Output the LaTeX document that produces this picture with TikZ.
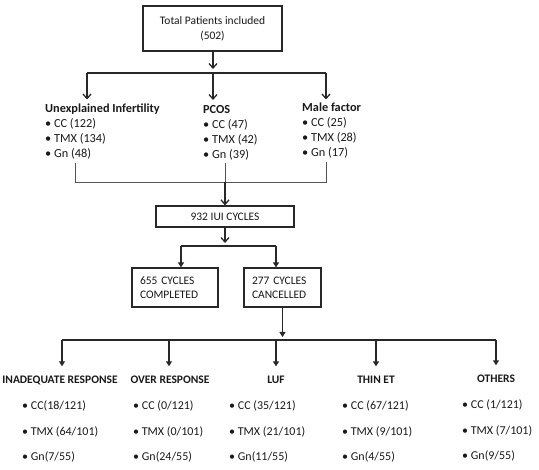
\documentclass[tikz,border=0pt]{standalone}
\usepackage{fontspec}
\setmainfont{Carlito}
\usetikzlibrary{arrows.meta}
\definecolor{lc}{RGB}{40,40,40}
\definecolor{tc}{RGB}{25,25,25}
\begin{document}
\begin{tikzpicture}[x=1pt,y=1pt,
  line/.style={draw=lc, line width=1.4pt},
  thinline/.style={draw=lc!80, line width=0.9pt},
  barb/.style={line, -{Straight Barb[length=4.5pt,width=8pt,line width=1.3pt]}},
  tri/.style={line, -{Triangle[length=5pt,width=6pt]}},
  box/.style={draw=lc, line width=1.3pt, inner sep=0pt, text=tc, font=\fontsize{11.5}{14}\selectfont},
  cat/.style={anchor=north west, inner sep=0pt, align=left, text=tc, font=\fontsize{12.3}{15.2}\selectfont},
  head/.style={anchor=base, inner sep=0pt, text=tc, font=\fontsize{11.5}{14}\selectfont\bfseries},
  list/.style={anchor=north west, inner sep=0pt, align=left, text=tc, font=\fontsize{12}{25.5}\selectfont}]
\useasboundingbox[fill=white] (0,0) rectangle (539,-470);

% top box
\node[box, line width=2.4pt, minimum width=139pt, minimum height=45pt, align=center,
      font=\fontsize{11.5}{15}\selectfont] (top) at (212.5,-28.5) {Total Patients included\\(502)};
\coordinate (t0) at (213,-69);
\coordinate (b1) at (87,-73);
\coordinate (b2) at (213,-73);
\coordinate (b3) at (326,-73);
\draw[barb] (top.south -| t0) -- (t0);
\draw[line] (b1) -- (b3);

% categories
\node[cat] (ui) at (45,-103.5) {\textbf{Unexplained Infertility}\\• CC (122)\\• TMX (134)\\• Gn (48)};
\node[cat] (pc) at (203,-105) {\textbf{PCOS}\\• CC (47)\\• TMX (42)\\• Gn (39)};
\node[cat] (mf) at (302,-102.5) {\textbf{Male factor}\\• CC (25)\\• TMX (28)\\• Gn (17)};
\draw[barb, shorten >=4pt] (b1) -- (b1 |- ui.north);
\draw[barb, shorten >=5pt] (b2) -- (b2 |- pc.north);
\draw[barb, shorten >=3pt] (b3) -- (b3 |- mf.north);

% merge
\coordinate (u1) at (75,-163);
\coordinate (u2) at (225,-163);
\coordinate (u3) at (326,-162);
\coordinate (m1) at (75,-182);
\coordinate (m2) at (225,-182);
\coordinate (m3) at (326,-182);
\draw[thinline] (u1) -- (m1) -- (m3) -- (u3);
\draw[thinline] (u2) -- (m2);

\node[box, minimum width=138pt, minimum height=21pt] (iui) at (225,-216.5) {932 IUI CYCLES};
\draw[barb] (m2) -- (iui.north);

\coordinate (s0) at (225,-243);
\coordinate (c1) at (181,-246);
\coordinate (c2) at (276,-246);
\draw[barb] (iui.south) -- (s0);
\draw[line] (c1) -- (c2);

\node[box, minimum width=86pt, minimum height=39pt, text width=70pt, inner xsep=8pt, align=left] (comp) at (175,-287.5) {655 CYCLES\\COMPLETED};
\node[box, minimum width=77pt, minimum height=39pt, text width=61pt, inner xsep=8pt, align=left] (canc) at (282.5,-287.5) {277 CYCLES\\CANCELLED};
\draw[tri] (c1) -- (c1 |- comp.north);
\draw[tri] (c2) -- (c2 |- canc.north);

% cancelled reasons
\coordinate (k0) at (282.5,-337);
\draw[tri] (canc.south) -- (k0);
\coordinate (r1) at (62,-340);
\coordinate (r2) at (169,-340);
\coordinate (r3) at (276,-340);
\coordinate (r4) at (376,-340);
\coordinate (r5) at (496,-340);
\draw[line] (r1) -- (r5);

\node[head] (h1) at (60,-384) {INADEQUATE RESPONSE};
\node[head] (h2) at (170,-384) {OVER RESPONSE};
\node[head] (h3) at (276,-384) {LUF};
\node[head] (h4) at (376,-384) {THIN ET};
\node[head] (h5) at (496,-383) {OTHERS};
\draw[tri, shorten >=10pt] (r1) -- (r1 |- h1.north);
\draw[tri, shorten >=10pt] (r2) -- (r2 |- h2.north);
\draw[tri, shorten >=10pt] (r3) -- (r3 |- h3.north);
\draw[tri, shorten >=10pt] (r4) -- (r4 |- h4.north);
\draw[tri, shorten >=10pt] (r5) -- (r5 |- h5.north);

\node[list] (l1) at (22,-401) {• CC(18/121)\\• TMX (64/101)\\• Gn(7/55)};
\node[list] (l2) at (133,-401) {• CC (0/121)\\• TMX (0/101)\\• Gn(24/55)};
\node[list] (l3) at (229,-401) {• CC (35/121)\\• TMX (21/101)\\• Gn(11/55)};
\node[list] (l4) at (342,-401) {• CC (67/121)\\• TMX (9/101)\\• Gn(4/55)};
\node[list] (l5) at (462,-400) {• CC (1/121)\\• TMX (7/101)\\• Gn(9/55)};
\end{tikzpicture}
\end{document}
